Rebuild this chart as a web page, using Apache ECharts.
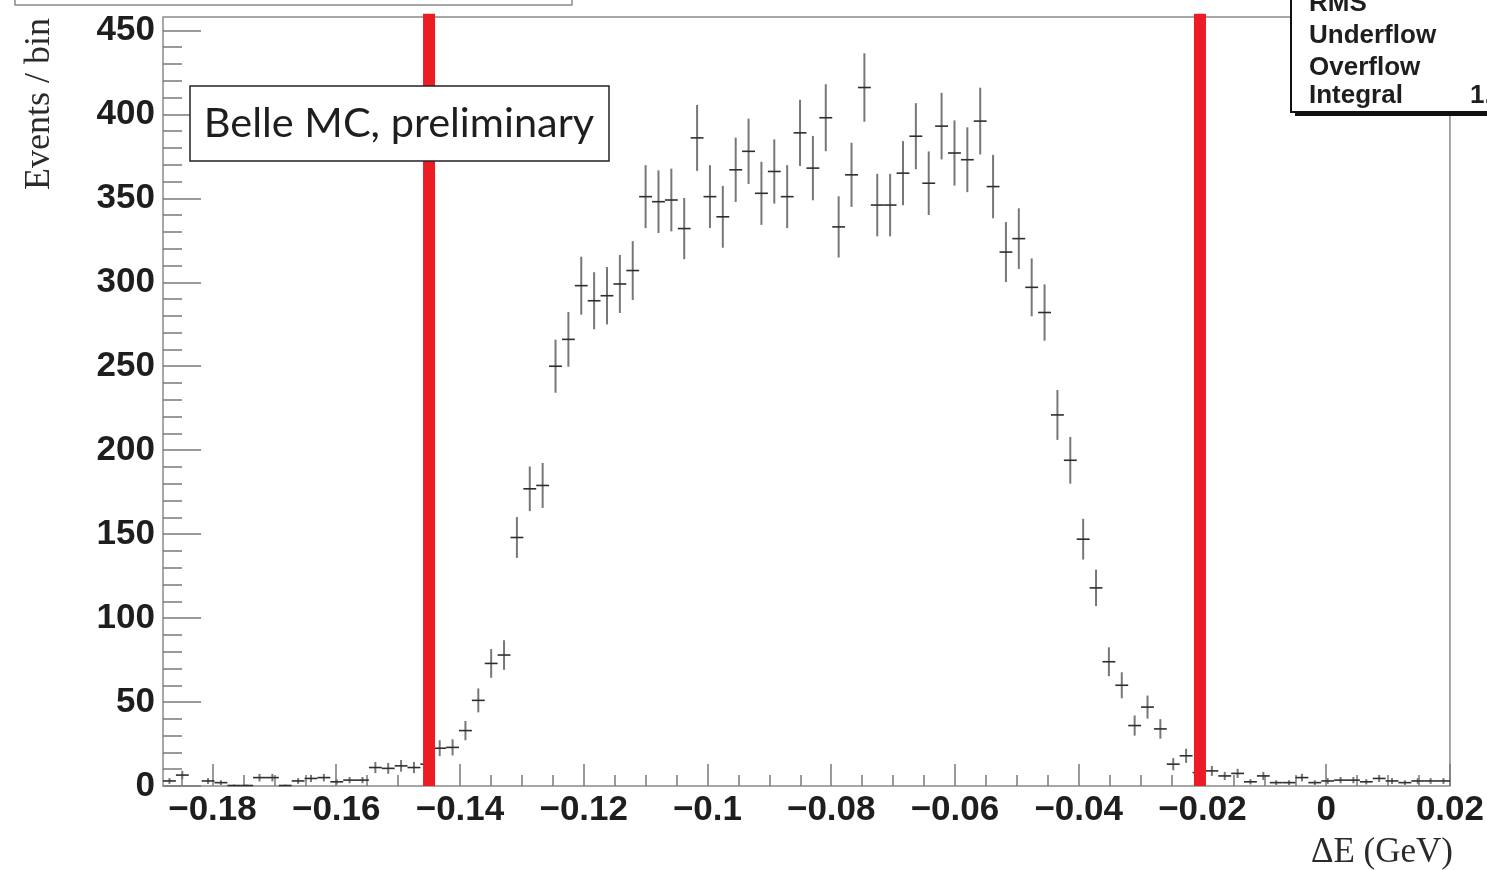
<!DOCTYPE html>
<html>
<head>
<meta charset="utf-8">
<style>
  html, body { margin: 0; padding: 0; background: #fff; }
  #chart { width: 1487px; height: 870px; }
</style>
<script src="https://cdn.jsdelivr.net/npm/echarts@6.0.0/dist/echarts.min.js"></script>
</head>
<body>
<div id="chart"></div>
<script>
// ---- Histogram binning (ΔE, GeV) ----
const X_MIN = -0.188;
const X_MAX = 0.02;
const BIN_WIDTH = 0.00208;
const Y_MIN = 0;
const Y_MAX = 458;

// ---- Events per bin, 100 bins left to right ----
const counts = [
  3, 6.5, 0, 3, 2, 0.3, 0.3, 5, 5, 0.3,
  3, 4.5, 5, 2.5, 3.5, 3.5, 11, 10.5, 12, 11,
  13, 22.5, 23, 33, 51, 73, 78, 148, 177, 179,
  250, 266, 298, 289, 292, 299, 307, 351, 348, 349,
  332, 386, 351, 339, 367, 378, 353, 366, 351, 389,
  368, 398, 333, 364, 416, 346, 346, 365, 387, 359,
  393, 377, 373, 396, 357, 318, 326, 297, 282, 221,
  194, 147, 118, 74, 60, 36, 47, 34, 13, 18,
  8, 9, 6, 7.5, 2.5, 6, 2, 2, 5, 2,
  3, 3.5, 3.5, 2.5, 4.5, 3, 2, 3, 3, 3
];

// ---- Signal-window cut lines (ΔE, GeV) ----
const cutLines = [-0.145, -0.0204];

// ---- Axis ticks / labels ----
const xMajorTicks = [-0.18, -0.16, -0.14, -0.12, -0.1, -0.08, -0.06, -0.04, -0.02, 0, 0.02];
const yMajorTicks = [0, 50, 100, 150, 200, 250, 300, 350, 400, 450];
const xMinorTicks = [];
for (let k = -185; k <= 20; k += 5) xMinorTicks.push(k / 1000);
const yMinorTicks = [];
for (let k = 0; k <= 450; k += 10) yMinorTicks.push(k);

// ---- Texts ----
const yTitle = 'Events / bin';
const xTitle = '\u0394E (GeV)';
const labelText = 'Belle MC, preliminary';
const statsLines = ['RMS', 'Underflow', 'Overflow', 'Integral'];
const statsValue = '1.';

const histData = counts.map((c, i) => [X_MIN + BIN_WIDTH * (i + 0.5), c]);

const tickGray = '#7a7a7a';
const labelFont = { fontFamily: 'Liberation Sans', fontWeight: 'bold', fontSize: 35, color: '#1e1e1e' };

function fmtX(v) {
  if (v === 0) return '0';
  return (v < 0 ? '\u2212' : '') + String(Math.abs(v));
}

const chart = echarts.init(document.getElementById('chart'), null, { renderer: 'canvas' });

const option = {
  animation: false,
  backgroundColor: '#ffffff',
  grid: {
    left: 163, right: 34, top: 17, bottom: 84,
    show: true, borderColor: '#8a8a8a', borderWidth: 1.5, backgroundColor: '#ffffff'
  },
  xAxis: [
    {
      type: 'value', min: X_MIN, max: X_MAX, position: 'bottom',
      axisLine: { show: false, onZero: false }, splitLine: { show: false },
      axisTick: { show: true, inside: true, length: 22, customValues: xMajorTicks, lineStyle: { color: tickGray, width: 1.5 } },
      axisLabel: Object.assign({ show: true, customValues: xMajorTicks, margin: 7, formatter: fmtX }, labelFont)
    },
    {
      type: 'value', min: X_MIN, max: X_MAX, position: 'bottom', offset: 0,
      axisLine: { show: false, onZero: false }, splitLine: { show: false },
      axisTick: { show: true, inside: true, length: 11, customValues: xMinorTicks, lineStyle: { color: tickGray, width: 1.5 } },
      axisLabel: { show: false }
    }
  ],
  yAxis: [
    {
      type: 'value', min: Y_MIN, max: Y_MAX, position: 'left',
      axisLine: { show: false, onZero: false }, splitLine: { show: false },
      axisTick: { show: true, inside: true, length: 38, customValues: yMajorTicks, lineStyle: { color: tickGray, width: 1.5 } },
      axisLabel: Object.assign({ show: true, customValues: yMajorTicks, margin: 8 }, labelFont)
    },
    {
      type: 'value', min: Y_MIN, max: Y_MAX, position: 'left', offset: 0,
      axisLine: { show: false, onZero: false }, splitLine: { show: false },
      axisTick: { show: true, inside: true, length: 19, customValues: yMinorTicks, lineStyle: { color: tickGray, width: 1.5 } },
      axisLabel: { show: false }
    }
  ],
  series: [
    {
      type: 'custom',
      xAxisIndex: 0, yAxisIndex: 0,
      data: histData,
      z: 5,
      renderItem: function (params, api) {
        const x = api.value(0), c = api.value(1);
        if (!(c > 0)) return null;
        const err = Math.sqrt(c);
        const center = api.coord([x, c]);
        const left = api.coord([x - BIN_WIDTH / 2, c]);
        const right = api.coord([x + BIN_WIDTH / 2, c]);
        const top = api.coord([x, c + err]);
        const bot = api.coord([x, Math.max(0, c - err)]);
        return {
          type: 'group',
          children: [
            { type: 'line', shape: { x1: top[0], y1: top[1], x2: bot[0], y2: bot[1] }, style: { stroke: '#777777', lineWidth: 2 } },
            { type: 'line', shape: { x1: left[0], y1: center[1], x2: right[0], y2: center[1] }, style: { stroke: '#2e2e2e', lineWidth: 1.6 } }
          ]
        };
      }
    },
    {
      type: 'custom',
      xAxisIndex: 0, yAxisIndex: 0,
      data: cutLines.map(v => [v]),
      z: 10,
      clip: false,
      renderItem: function (params, api) {
        const x = api.value(0);
        const b = api.coord([x, Y_MIN]);
        const t = api.coord([x, Y_MAX + 2]);
        return { type: 'line', shape: { x1: b[0], y1: b[1], x2: t[0], y2: t[1] }, style: { stroke: '#ec1c24', lineWidth: 12 } };
      }
    }
  ],
  graphic: [
    // cut-off title box at top-left
    { type: 'rect', z: 20, shape: { x: 15, y: -50, width: 557, height: 55 }, style: { fill: '#fff', stroke: '#8a8a8a', lineWidth: 1.5 } },
    // Belle MC label box
    { type: 'rect', z: 20, shape: { x: 190, y: 86, width: 419, height: 75 }, style: { fill: '#fff', stroke: '#222', lineWidth: 1.5 } },
    { type: 'text', z: 21, x: 399, y: 124, style: { text: labelText, fontFamily: 'Lato', fontSize: 41.5, fill: '#1e1e1e', align: 'center', verticalAlign: 'middle' } },
    // stats box (shadow + box)
    { type: 'rect', z: 20, shape: { x: 1295, y: -10, width: 220, height: 126 }, style: { fill: '#111' } },
    { type: 'rect', z: 21, shape: { x: 1291, y: -14, width: 220, height: 126 }, style: { fill: '#fff', stroke: '#111', lineWidth: 2 } },
    { type: 'text', z: 22, x: 1309, y: 4, style: { text: statsLines[0], fontFamily: 'Liberation Sans', fontWeight: 'bold', fontSize: 26, fill: '#1e1e1e', verticalAlign: 'middle' } },
    { type: 'text', z: 22, x: 1309, y: 36, style: { text: statsLines[1], fontFamily: 'Liberation Sans', fontWeight: 'bold', fontSize: 26, fill: '#1e1e1e', verticalAlign: 'middle' } },
    { type: 'text', z: 22, x: 1309, y: 68, style: { text: statsLines[2], fontFamily: 'Liberation Sans', fontWeight: 'bold', fontSize: 26, fill: '#1e1e1e', verticalAlign: 'middle' } },
    { type: 'text', z: 22, x: 1309, y: 96, style: { text: statsLines[3], fontFamily: 'Liberation Sans', fontWeight: 'bold', fontSize: 26, fill: '#1e1e1e', verticalAlign: 'middle' } },
    { type: 'text', z: 22, x: 1470, y: 96, style: { text: statsValue, fontFamily: 'Liberation Sans', fontWeight: 'bold', fontSize: 26, fill: '#1e1e1e', verticalAlign: 'middle' } },
    // axis titles
    { type: 'text', z: 22, x: 40, y: 104, rotation: Math.PI / 2, style: { text: yTitle, fontFamily: 'Liberation Serif', fontSize: 36, fill: '#2a2a2a', align: 'center', verticalAlign: 'middle' } },
    { type: 'text', z: 22, x: 1453, y: 853, style: { text: xTitle, fontFamily: 'Liberation Serif', fontSize: 35, fill: '#2a2a2a', align: 'right', verticalAlign: 'middle' } }
  ]
};

chart.setOption(option);
</script>
</body>
</html>
